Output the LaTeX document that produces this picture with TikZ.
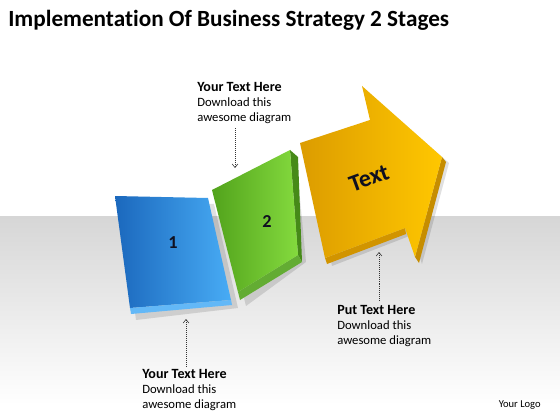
\documentclass[tikz,border=0pt]{standalone}
\usepackage{fontspec}
\setmainfont{Carlito}[Ligatures=NoCommon]
\usetikzlibrary{arrows.meta}

\definecolor{blueL}{HTML}{1B68BD}
\definecolor{blueR}{HTML}{48ACF5}
\definecolor{greenL}{HTML}{52A31C}
\definecolor{greenR}{HTML}{84DA3E}
\definecolor{goldL}{HTML}{DC9C00}
\definecolor{goldR}{HTML}{FFC700}
\definecolor{ink}{HTML}{101020}

\begin{document}
\begin{tikzpicture}[x=0.025cm, y=-0.025cm,
    note/.style={anchor=north west, inner sep=0pt, align=left,
      font=\fontsize{9}{10.8}\selectfont},
    pointer/.style={densely dotted, gray!40!black, -{Straight Barb[length=2.5pt,width=4pt]}},
    num/.style={font=\fontsize{13}{15}\selectfont\bfseries, text=ink},
    dropshadow/.style={fill=black, opacity=0.12}]
    \useasboundingbox (0,0) rectangle (560,420);
    \fill[white] (0,0) rectangle (560,420);
    \shade[top color={rgb,255:red,214;green,214;blue,214}, bottom color=white]
      (0,216) rectangle (560,405);
    \fill[white] (0,405) rectangle (560,420);

    \node[anchor=base west, inner sep=0pt, font=\fontsize{16.5}{19}\selectfont\bfseries]
      (title) at (8,27) {Implementation Of Business Strategy 2 Stages};

    % shadows
    \fill[dropshadow] (121,202) -- (214,204) -- (238,308) -- (136,320) -- cycle;
    \fill[dropshadow] (218,196) -- (296,156) -- (306,262) -- (246,306) -- cycle;
    \fill[dropshadow] (306,149) -- (376,126) -- (368,92) -- (449,163) -- (422,264)
      -- (412,235) -- (332,266) -- cycle;

    % panel 1
    \shade[left color=blueL, right color=blueR]
      (115,196) -- (208,198) -- (231,300) -- (130,308) -- cycle;
    \fill[blueR!85!white] (130,308) -- (231,300) -- (232,305) -- (131,314) -- cycle;
    \node[num] (one) at (173,243) {1};

    % panel 2
    \fill[greenL!85!black] (290,150) -- (298,157) -- (302,262) -- (298,255) -- cycle;
    \fill[greenL!90!white] (238,292) -- (298,255) -- (302,262) -- (240,300) -- cycle;
    \shade[left color=greenL, right color=greenR]
      (212,190) -- (290,150) -- (298,255) -- (238,292) -- cycle;
    \node[num] (two) at (267,222) {2};

    % arrow
    \fill[goldL!90!black] (442,157) -- (446,162) -- (419,263) -- (415,257) -- cycle;
    \fill[goldL!95!black] (325,258) -- (405,228) -- (406,234) -- (327,264) -- cycle;
    \shade[left color=goldL, right color=goldR]
      (300,143) -- (370,120) -- (362,86) -- (442,157) -- (415,257)
      -- (405,228) -- (325,258) -- cycle;
    \node[font=\fontsize{17}{20}\selectfont\bfseries, text=ink, rotate=20]
      (word) at (369,178) {Text};

    % notes
    \node[note] (topnote) at (197,82)
      {\textbf{\fontsize{10}{10.8}\selectfont Your Text Here}\\Download this\\awesome diagram};
    \node[note] (leftnote) at (142,369)
      {\textbf{\fontsize{10}{10.8}\selectfont Your Text Here}\\Download this\\awesome diagram};
    \node[note] (rightnote) at (337,305)
      {\textbf{\fontsize{10}{10.8}\selectfont Put Text Here}\\Download this\\awesome diagram};
    \node[anchor=east, inner sep=0pt, font=\fontsize{7.5}{9}\selectfont]
      (logo) at (541,405) {Your Logo};

    \coordinate (tipA) at (235,168);
    \coordinate (tipB) at (186,319);
    \coordinate (tipC) at (379,252);
    \draw[pointer] ([yshift=-3pt]topnote.south -| tipA) -- (tipA);
    \draw[pointer] ([yshift=2pt]leftnote.north -| tipB) -- (tipB);
    \draw[pointer] ([yshift=3pt]rightnote.north -| tipC) -- (tipC);
\end{tikzpicture}
\end{document}
